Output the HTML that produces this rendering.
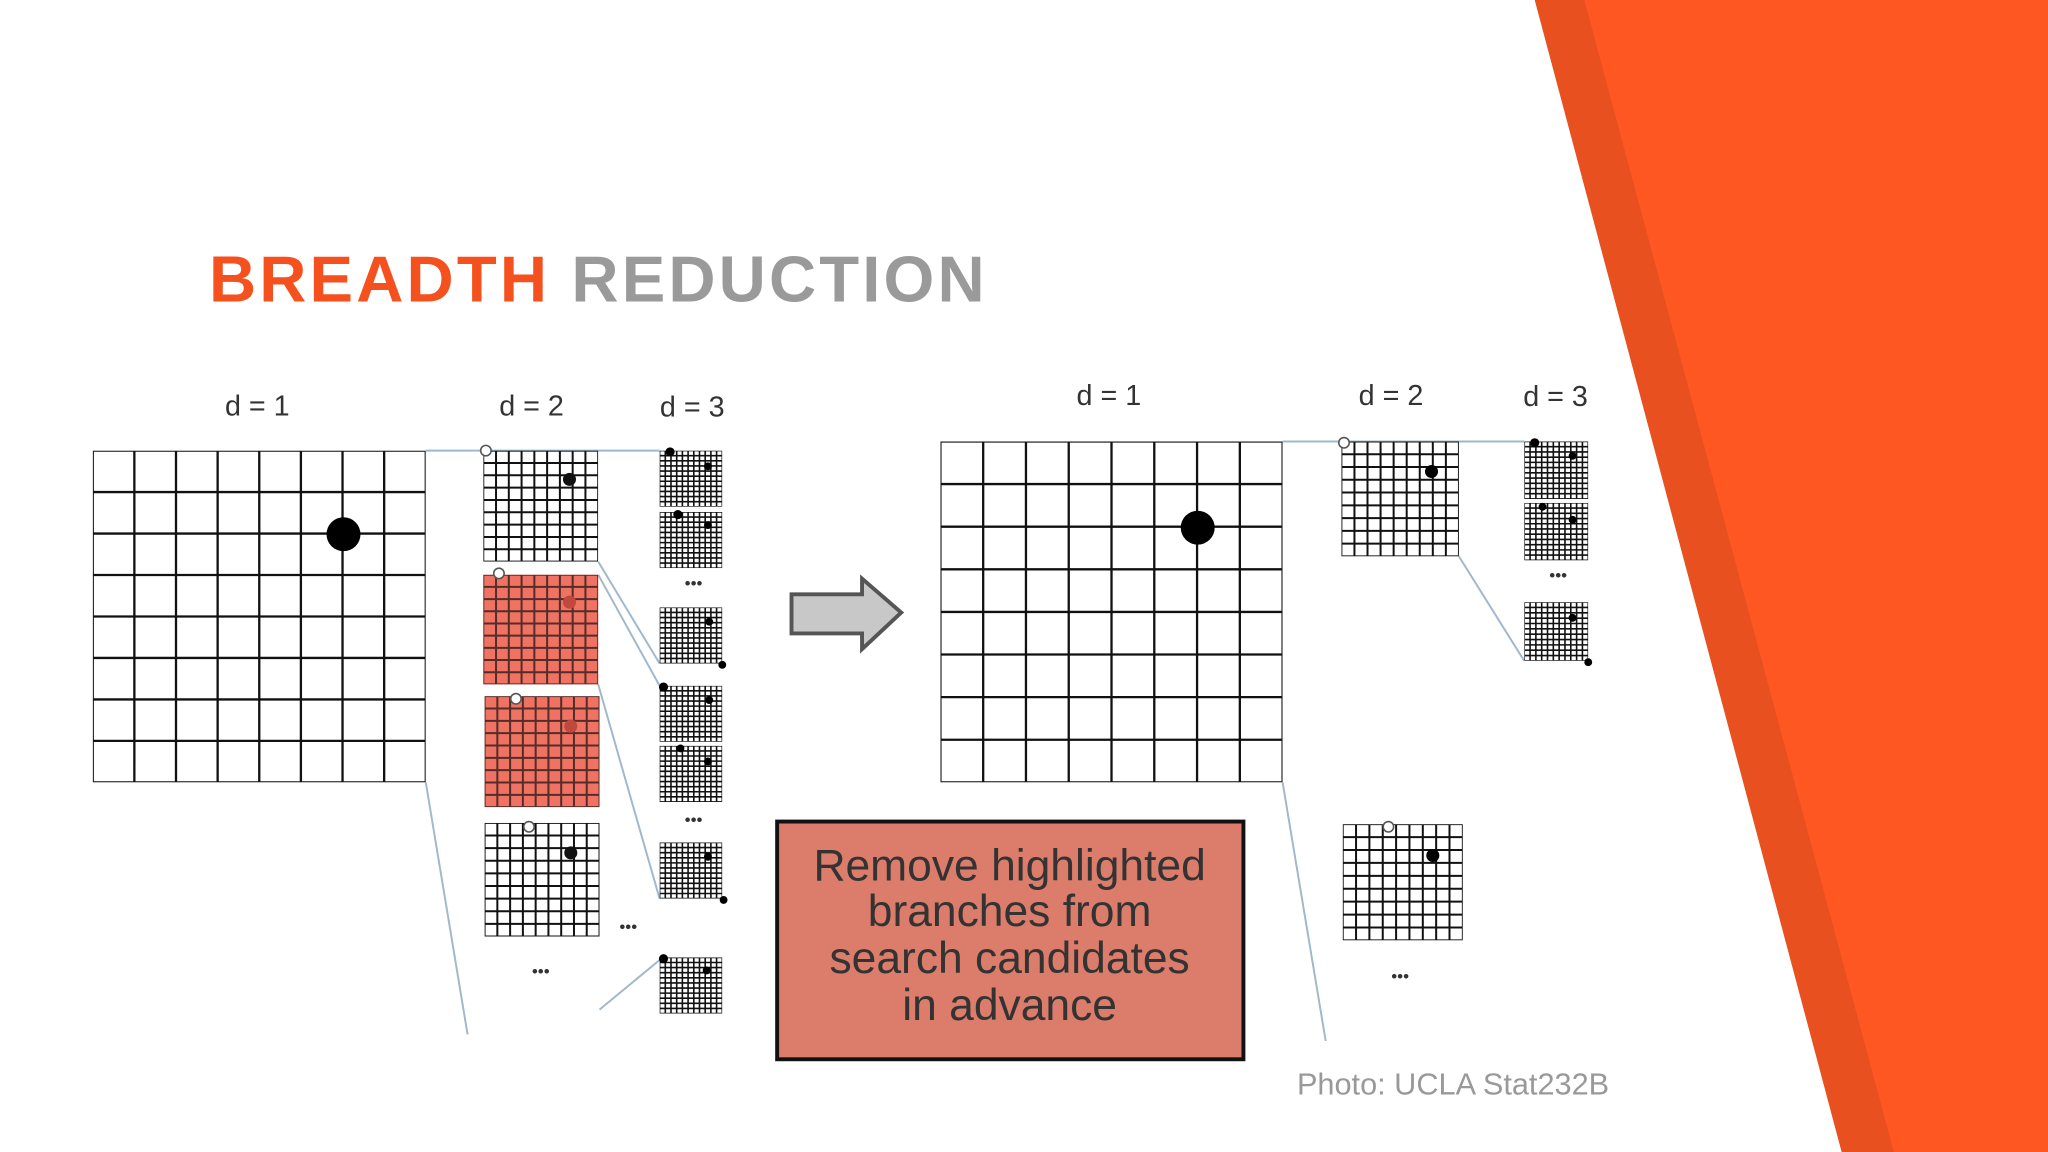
<!DOCTYPE html>
<html><head><meta charset="utf-8"><style>
html,body{margin:0;padding:0;background:#fff;}
svg{display:block}
</style></head><body>
<svg width="2048" height="1152" viewBox="0 0 1568 882" xmlns="http://www.w3.org/2000/svg">
<defs>
<symbol id="g8" viewBox="0 0 8 8" preserveAspectRatio="none"><path d="M0 0H8M0 1H8M0 2H8M0 3H8M0 4H8M0 5H8M0 6H8M0 7H8M0 8H8M0 0V8M1 0V8M2 0V8M3 0V8M4 0V8M5 0V8M6 0V8M7 0V8M8 0V8" stroke="#111" stroke-width="2.3" vector-effect="non-scaling-stroke" fill="none"/></symbol>
<symbol id="g9" viewBox="0 0 9 9" preserveAspectRatio="none"><path d="M0 0H9M0 1H9M0 2H9M0 3H9M0 4H9M0 5H9M0 6H9M0 7H9M0 8H9M0 9H9M0 0V9M1 0V9M2 0V9M3 0V9M4 0V9M5 0V9M6 0V9M7 0V9M8 0V9M9 0V9" stroke="#111" stroke-width="2" vector-effect="non-scaling-stroke" fill="none"/></symbol>
<symbol id="g11" viewBox="0 0 11 11" preserveAspectRatio="none"><path d="M0 0H11M0 1H11M0 2H11M0 3H11M0 4H11M0 5H11M0 6H11M0 7H11M0 8H11M0 9H11M0 10H11M0 11H11M0 0V11M1 0V11M2 0V11M3 0V11M4 0V11M5 0V11M6 0V11M7 0V11M8 0V11M9 0V11M10 0V11M11 0V11" stroke="#111" stroke-width="1.6" vector-effect="non-scaling-stroke" fill="none"/></symbol>
</defs>
<polygon points="1175,0 1568,0 1568,882 1410,882" fill="#E8501F"/>
<polygon points="1213,0 1568,0 1568,882 1450,882" fill="#FF5722"/>
<text x="160" y="231" font-family="Liberation Sans, sans-serif" font-weight="bold" font-size="50" letter-spacing="2.4" fill="#F4511E">BREADTH <tspan fill="#9A9A9A">REDUCTION</tspan></text>
<g font-family="Liberation Sans, sans-serif" font-size="22" fill="#333" text-anchor="middle">
<text x="197" y="318">d = 1</text><text x="407" y="318">d = 2</text><text x="530" y="319">d = 3</text>
<text x="849" y="310">d = 1</text><text x="1065" y="310">d = 2</text><text x="1191" y="311">d = 3</text>
</g>
<g stroke="#9FB8CC" stroke-width="1.5" fill="none">
<path d="M326 345H505M326 599L358 792M458 430L505 508M458 440L505 525M458 524L505 688M459 773L505 735"/>
<path d="M982 338H1167M982 599L1015 797M1117 426L1167 506"/>
</g>
<svg x="71" y="345" width="255" height="254"><use href="#g8"/></svg>
<circle cx="263" cy="409" r="13" fill="#000"/>
<rect x="370" y="440" width="88" height="84" fill="#F07262"/>
<rect x="371" y="533" width="88" height="85" fill="#F07262"/>
<svg x="370" y="345" width="88" height="85"><use href="#g9"/></svg>
<svg x="370" y="440" width="88" height="84" opacity="0.7"><use href="#g9"/></svg>
<svg x="371" y="533" width="88" height="85" opacity="0.7"><use href="#g9"/></svg>
<svg x="371" y="630" width="88" height="87"><use href="#g9"/></svg>
<g fill="#111"><circle cx="436" cy="367" r="5"/><circle cx="436" cy="461" r="5" fill="#C0483C"/><circle cx="437" cy="556" r="5" fill="#C0483C"/><circle cx="437" cy="653" r="5"/></g>
<g fill="#fff" stroke="#555" stroke-width="1.2"><circle cx="372" cy="345" r="4"/><circle cx="382" cy="439" r="4"/><circle cx="395" cy="535" r="4"/><circle cx="405" cy="633" r="4"/></g>
<g>
<svg x="505" y="345" width="48" height="43"><use href="#g11"/></svg>
<svg x="505" y="392" width="48" height="43"><use href="#g11"/></svg>
<svg x="505" y="465" width="48" height="43"><use href="#g11"/></svg>
<svg x="505" y="525" width="48" height="43"><use href="#g11"/></svg>
<svg x="505" y="571" width="48" height="43"><use href="#g11"/></svg>
<svg x="505" y="645" width="48" height="43"><use href="#g11"/></svg>
<svg x="505" y="733" width="48" height="43"><use href="#g11"/></svg>
</g>
<g fill="#000"><circle cx="513" cy="346" r="3.5"/><circle cx="542" cy="357" r="3"/><circle cx="519" cy="394" r="3.5"/><circle cx="542" cy="402" r="3"/><circle cx="543" cy="476" r="3"/><circle cx="553" cy="509" r="3"/><circle cx="508" cy="526" r="3.5"/><circle cx="543" cy="536" r="3"/><circle cx="521" cy="573" r="3"/><circle cx="542" cy="583" r="3"/><circle cx="542" cy="656" r="3"/><circle cx="554" cy="689" r="3"/><circle cx="508" cy="734" r="3.5"/><circle cx="541" cy="743" r="3"/></g>
<g font-family="Liberation Sans, sans-serif" font-size="13" fill="#333" text-anchor="middle"><text x="531" y="451">•••</text><text x="531" y="632">•••</text><text x="414" y="748">•••</text><text x="481" y="714">•••</text><text x="1193" y="445">•••</text><text x="1072" y="752">•••</text></g>
<polygon points="606,455 660,455 660,443 690,469 660,497 660,485 606,485" fill="#C8C8C8" stroke="#555" stroke-width="3"/>
<svg x="720" y="338" width="262" height="261"><use href="#g8"/></svg>
<circle cx="917" cy="404" r="13" fill="#000"/>
<svg x="1027" y="338" width="90" height="88"><use href="#g9"/></svg>
<svg x="1028" y="631" width="92" height="89"><use href="#g9"/></svg>
<circle cx="1096" cy="361" r="5" fill="#000"/><circle cx="1097" cy="655" r="5" fill="#000"/>
<g fill="#fff" stroke="#555" stroke-width="1.2"><circle cx="1029" cy="339" r="4"/><circle cx="1063" cy="633" r="4"/></g>
<svg x="1167" y="338" width="49" height="44"><use href="#g11"/></svg>
<svg x="1167" y="385" width="49" height="44"><use href="#g11"/></svg>
<svg x="1167" y="461" width="49" height="45"><use href="#g11"/></svg>
<g fill="#000"><circle cx="1175" cy="339" r="3.5"/><circle cx="1204" cy="349" r="3"/><circle cx="1181" cy="388" r="3"/><circle cx="1204" cy="398" r="3"/><circle cx="1204" cy="473" r="3"/><circle cx="1216" cy="507" r="3"/></g>
<rect x="595" y="629" width="357" height="182" fill="#DC7C6B" stroke="#111" stroke-width="3"/>
<g font-family="Liberation Sans, sans-serif" font-size="34" fill="#333" text-anchor="middle">
<text x="773" y="674">Remove highlighted</text>
<text x="773" y="709">branches from</text>
<text x="773" y="745">search candidates</text>
<text x="773" y="781">in advance</text>
</g>
<text x="1232" y="838" text-anchor="end" font-family="Liberation Sans, sans-serif" font-size="23.5" fill="#999">Photo: UCLA Stat232B</text>
</svg>
</body></html>
